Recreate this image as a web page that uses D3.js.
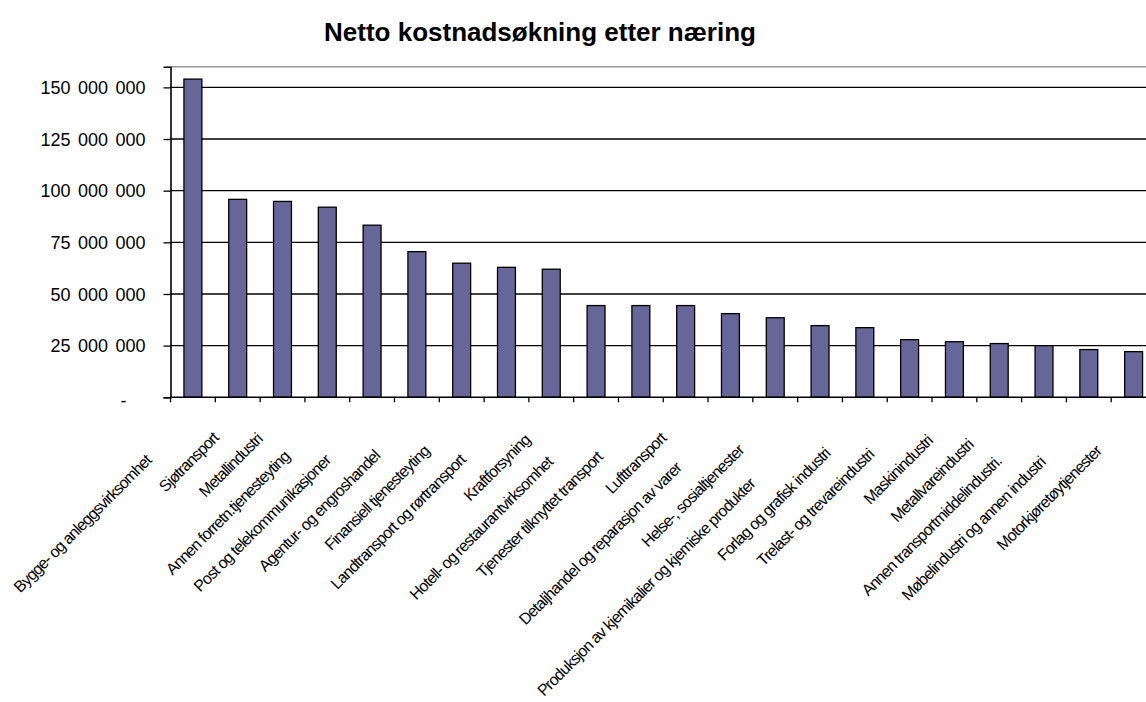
<!DOCTYPE html>
<html>
<head>
<meta charset="utf-8">
<script src="https://cdn.jsdelivr.net/npm/d3@7"></script>
<style>
  html, body { margin: 0; padding: 0; background: #ffffff; }
  svg { display: block; }
  text { font-family: "Liberation Sans", Arial, sans-serif; }
</style>
</head>
<body>
<svg id="chart" width="1146" height="702"></svg>
<script>
const title = "Netto kostnadsøkning etter næring";

const categories = [
  "Bygge- og anleggsvirksomhet",
  "Sjøtransport",
  "Metallindustri",
  "Annen forretn.tjenesteyting",
  "Post og telekommunikasjoner",
  "Agentur- og engroshandel",
  "Finansiell tjenesteyting",
  "Landtransport og rørtransport",
  "Kraftforsyning",
  "Hotell- og restaurantvirksomhet",
  "Tjenester tilknyttet transport",
  "Lufttransport",
  "Detaljhandel og reparasjon av varer",
  "Helse-, sosialtjenester",
  "Produksjon av kjemikalier og kjemiske produkter",
  "Forlag og grafisk industri",
  "Trelast- og trevareindustri",
  "Maskinindustri",
  "Metallvareindustri",
  "Annen transportmiddelindustri.",
  "Møbelindustri og annen industri",
  "Motorkjøretøytjenester"
];

const values = [
  154000000, 95800000, 94800000, 92000000, 83300000, 70500000,
  64900000, 62900000, 62000000, 44400000, 44400000, 44400000,
  40500000, 38500000, 34700000, 33700000, 27900000, 26900000,
  26000000, 25000000, 23100000, 22100000
];

const yTicks = [0, 25000000, 50000000, 75000000, 100000000, 125000000, 150000000];

const svg = d3.select("#chart");
svg.append("rect").attr("width", 1146).attr("height", 702).attr("fill", "#ffffff");

const plot = { left: 170.5, right: 1156, top: 66.7, bottom: 397.3 };

const x = d3.scaleBand().domain(categories).range([plot.left, plot.right]).padding(0);
const y = d3.scaleLinear().domain([0, 160000000]).range([plot.bottom, plot.top]);

const nb = d3.formatLocale({ decimal: ",", thousands: " ", grouping: [3], currency: ["", ""] });
const fmt = nb.format(",.0f");

// Title
svg.append("text")
  .attr("x", 540).attr("y", 41)
  .attr("text-anchor", "middle")
  .attr("font-size", 26)
  .attr("font-weight", "bold")
  .attr("fill", "#000")
  .text(title);

// plot area top border
svg.append("line")
  .attr("x1", plot.left).attr("x2", plot.right)
  .attr("y1", plot.top).attr("y2", plot.top)
  .attr("stroke", "#9a9a9a").attr("stroke-width", 1.6);

// gridlines
svg.append("g").selectAll("line")
  .data(yTicks.filter(d => d > 0))
  .join("line")
  .attr("x1", plot.left).attr("x2", plot.right)
  .attr("y1", d => y(d)).attr("y2", d => y(d))
  .attr("stroke", "#000").attr("stroke-width", 1.3);

// bars
const bw = x.bandwidth() * 0.4;
svg.append("g").selectAll("rect")
  .data(categories.map((c, i) => ({ c, v: values[i] })))
  .join("rect")
  .attr("x", d => x(d.c) + (x.bandwidth() - bw) / 2)
  .attr("y", d => y(d.v))
  .attr("width", bw)
  .attr("height", d => y(0) - y(d.v))
  .attr("fill", "#666699")
  .attr("stroke", "#000")
  .attr("stroke-width", 1.3);

// y axis
const yAxis = d3.axisLeft(y).tickValues(yTicks).tickSize(7).tickPadding(0)
  .tickFormat(d => d === 0 ? "-" : fmt(d));
const gy = svg.append("g").attr("transform", `translate(${plot.left},0)`).call(yAxis);
gy.select(".domain").attr("stroke", "#000").attr("stroke-width", 1.6);
gy.selectAll(".tick line").attr("stroke", "#000").attr("stroke-width", 1.3);
gy.selectAll(".tick text")
  .attr("x", d => d === 0 ? -44 : -25)
  .attr("dy", d => d === 0 ? "0.5em" : "0.34em")
  .attr("font-size", 18)
  .attr("word-spacing", "2.5px")
  .attr("fill", "#000")
  .attr("font-family", "'Liberation Sans', Arial, sans-serif");

// x axis: ticks at category boundaries
const gx = svg.append("g");
gx.append("line")
  .attr("x1", plot.left).attr("x2", plot.right)
  .attr("y1", plot.bottom).attr("y2", plot.bottom)
  .attr("stroke", "#000").attr("stroke-width", 1.6);
gx.selectAll("line.tk")
  .data(categories)
  .join("line").attr("class", "tk")
  .attr("x1", d => x(d)).attr("x2", d => x(d))
  .attr("y1", plot.bottom).attr("y2", plot.bottom + 5)
  .attr("stroke", "#000").attr("stroke-width", 1.3);

// category labels, rotated 45 degrees
const labels = gx.selectAll("text.lbl")
  .data(categories)
  .join("text").attr("class", "lbl")
  .attr("text-anchor", "end")
  .attr("font-size", 16)
  .attr("letter-spacing", "-0.9px")
  .attr("dy", "0.35em")
  .attr("fill", "#000")
  .text(d => d);

labels.each(function(d) {
  const len = this.getComputedTextLength();
  const s = Math.max(0, 0.205 * (len - 76));
  const cx = x(d) + x.bandwidth() / 2;
  const ax = cx - 22 - s;
  const ay = 435 + s;
  d3.select(this).attr("transform", `translate(${ax},${ay}) rotate(-45)`);
});
</script>
</body>
</html>
